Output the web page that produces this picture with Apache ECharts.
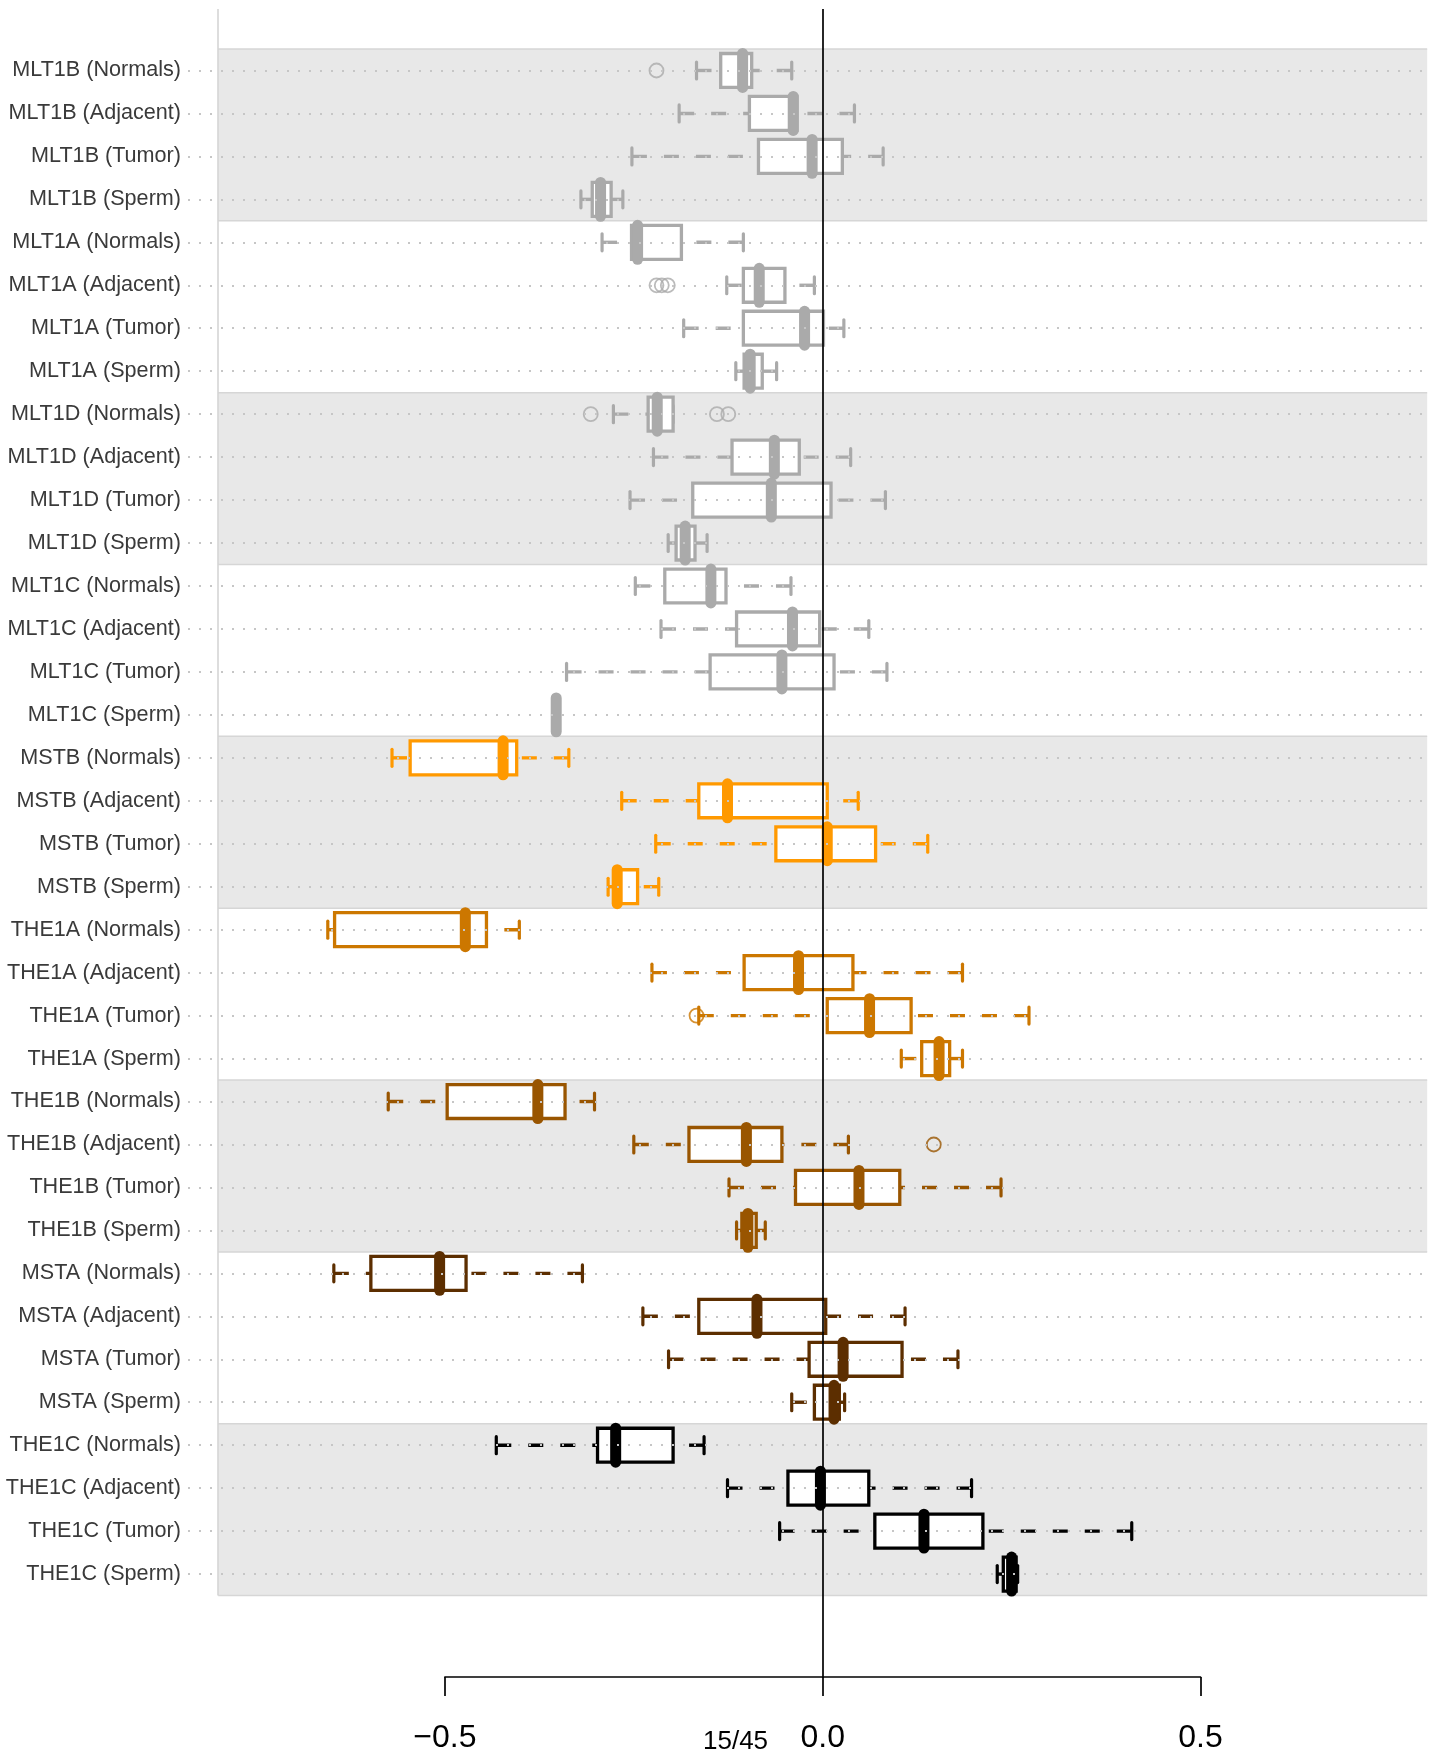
<!DOCTYPE html>
<html>
<head>
<meta charset="utf-8">
<script src="https://cdn.jsdelivr.net/npm/echarts@6/dist/echarts.min.js"></script>
<style>
  html, body { margin: 0; padding: 0; background: #ffffff; }
  #chart { width: 1431px; height: 1754px; }
</style>
</head>
<body>
<div id="chart"></div>
<script>
// Repeat families (top to bottom) and the four sample sets of each
const families = ['MLT1B', 'MLT1A', 'MLT1D', 'MLT1C', 'MSTB', 'THE1A', 'THE1B', 'MSTA', 'THE1C'];
const tissues = ['Normals', 'Adjacent', 'Tumor', 'Sperm'];
const familyColors = ['#aaaaaa', '#aaaaaa', '#aaaaaa', '#aaaaaa', '#ff9900', '#cc7700', '#995500', '#5c2e00', '#000000'];

// Five-number summaries, one entry per row (families x tissues)
const lowerWhisker = [
  -0.167, -0.190, -0.2525, -0.320,
  -0.292, -0.127, -0.184, -0.115,
  -0.277, -0.224, -0.255, -0.2045,
  -0.248, -0.214, -0.339, -0.3527,
  -0.570, -0.266, -0.221, -0.284,
  -0.655, -0.226, -0.164, 0.104,
  -0.575, -0.250, -0.124, -0.114,
  -0.647, -0.238, -0.204, -0.041,
  -0.432, -0.126, -0.057, 0.231
];
const lowerHinge = [
  -0.135, -0.097, -0.085, -0.305,
  -0.253, -0.105, -0.105, -0.104,
  -0.231, -0.120, -0.172, -0.194,
  -0.209, -0.114, -0.149, -0.3527,
  -0.546, -0.164, -0.062, -0.276,
  -0.646, -0.104, 0.006, 0.131,
  -0.497, -0.177, -0.036, -0.107,
  -0.598, -0.164, -0.018, -0.011,
  -0.298, -0.046, 0.069, 0.239
];
const median = [
  -0.106, -0.039, -0.014, -0.294,
  -0.245, -0.084, -0.024, -0.096,
  -0.219, -0.064, -0.068, -0.182,
  -0.148, -0.040, -0.054, -0.3527,
  -0.423, -0.126, 0.006, -0.272,
  -0.473, -0.032, 0.062, 0.154,
  -0.377, -0.101, 0.048, -0.099,
  -0.507, -0.087, 0.027, 0.015,
  -0.274, -0.003, 0.134, 0.250
];
const upperHinge = [
  -0.094, -0.034, 0.026, -0.280,
  -0.187, -0.050, 0.001, -0.080,
  -0.198, -0.031, 0.011, -0.169,
  -0.128, -0.004, 0.015, -0.3527,
  -0.405, 0.006, 0.070, -0.245,
  -0.445, 0.040, 0.117, 0.168,
  -0.341, -0.054, 0.102, -0.088,
  -0.472, 0.004, 0.105, 0.022,
  -0.198, 0.061, 0.212, 0.256
];
const upperWhisker = [
  -0.041, 0.042, 0.080, -0.2645,
  -0.105, -0.011, 0.028, -0.061,
  -0.198, 0.037, 0.083, -0.153,
  -0.042, 0.061, 0.085, -0.3527,
  -0.336, 0.047, 0.139, -0.217,
  -0.4015, 0.185, 0.273, 0.185,
  -0.302, 0.034, 0.236, -0.076,
  -0.318, 0.109, 0.179, 0.029,
  -0.157, 0.197, 0.409, 0.258
];
// Points beyond the whiskers: [row index, value]
const outliers = [
  [0, -0.220],
  [5, -0.220], [5, -0.213], [5, -0.205],
  [8, -0.307], [8, -0.140], [8, -0.125],
  [22, -0.167],
  [25, 0.147]
];
const xTicks = [-0.5, 0, 0.5];
const pageNote = '15/45';

// ---- derived tables ----
const categories = [];
const rowColor = [];
families.forEach((f, fi) => tissues.forEach(t => {
  categories.push(f + ' (' + t + ')');
  rowColor.push(familyColors[fi]);
}));
const boxData = categories.map((c, i) =>
  [i, lowerWhisker[i], lowerHinge[i], median[i], upperHinge[i], upperWhisker[i]]);
const outlierData = outliers.map(o => ({ value: [o[1], o[0]], itemStyle: { borderColor: rowColor[o[0]] } }));

// ---- layout ----
const PX_PER_UNIT = 755.6;
const PLOT_LEFT = 188;
const X_MIN = -0.84, X_MAX = 0.8;
const FRAME_MIN = -0.8;           // left edge of the shaded panel
const ROW_H = 42.96;
const PLOT_W = (X_MAX - X_MIN) * PX_PER_UNIT;
const shadedRows = families.map((f, i) => i).filter(i => i % 2 === 0).map(i => [FRAME_MIN, i * tissues.length]);

const FONT = '"Liberation Sans", Arial, Helvetica, sans-serif';

const chart = echarts.init(document.getElementById('chart'), null, { renderer: 'canvas' });

chart.setOption({
  animation: false,
  backgroundColor: '#ffffff',
  title: {
    text: pageNote, left: 703, top: 1729, padding: 0,
    textStyle: { fontFamily: FONT, fontSize: 26, fontWeight: 'normal', color: '#000' }
  },
  grid: [
    // rows
    { left: PLOT_LEFT, width: PLOT_W, top: 49, height: ROW_H * 36 },
    // frame line on the left
    { left: PLOT_LEFT, width: PLOT_W, top: 9, height: 49 + ROW_H * 36 - 9 },
    // zero reference line down to the axis
    { left: PLOT_LEFT, width: PLOT_W, top: 9, height: 1678 - 9 },
    // bottom value axis
    { left: PLOT_LEFT + (-0.5 - X_MIN) * PX_PER_UNIT, width: PX_PER_UNIT, top: 1600, height: 78 }
  ],
  xAxis: [
    { gridIndex: 0, type: 'value', min: X_MIN, max: X_MAX, show: false },
    { gridIndex: 1, type: 'value', min: X_MIN, max: X_MAX, show: false },
    { gridIndex: 2, type: 'value', min: X_MIN, max: X_MAX, show: false },
    {
      gridIndex: 3, type: 'value', min: xTicks[0], max: xTicks[xTicks.length - 1], interval: 0.5,
      position: 'bottom',
      axisLine: { show: true, lineStyle: { color: '#000', width: 1.7 } },
      axisTick: { show: true, inside: false, length: 19, lineStyle: { color: '#000', width: 1.7 } },
      axisLabel: {
        margin: 45, fontFamily: FONT, fontSize: 32, color: '#000',
        formatter: v => v.toFixed(1).replace('-', '\u2212')
      },
      splitLine: { show: false }
    }
  ],
  yAxis: [
    {
      gridIndex: 0, type: 'category', data: categories, inverse: true,
      axisLine: { show: false }, axisTick: { show: false }, splitLine: { show: false },
      axisLabel: { margin: 7, fontFamily: FONT, fontSize: 21.6, color: '#3a3a3a', interval: 0 }
    },
    { gridIndex: 1, type: 'value', min: 0, max: 1, show: false },
    { gridIndex: 2, type: 'value', min: 0, max: 1, show: false },
    { gridIndex: 3, type: 'value', min: 0, max: 1, show: false }
  ],
  series: [
    // shaded panels behind alternating families
    {
      type: 'custom', xAxisIndex: 0, yAxisIndex: 0, z: 1, silent: true,
      data: shadedRows, encode: { x: 0, y: 1 },
      renderItem: (params, api) => {
        const start = api.value(1);
        const band = api.size([0, 1])[1];
        const top = api.coord([api.value(0), start])[1] - band / 2;
        const x0 = api.coord([api.value(0), start])[0];
        const x1 = api.coord([X_MAX, start])[0];
        const h = band * tissues.length;
        return {
          type: 'group',
          children: [
            { type: 'rect', shape: { x: x0, y: top, width: x1 - x0, height: h }, style: { fill: '#e8e8e8' } },
            { type: 'line', shape: { x1: x0, y1: top, x2: x1, y2: top }, style: { stroke: '#d6d6d6', lineWidth: 1.5 } },
            { type: 'line', shape: { x1: x0, y1: top + h, x2: x1, y2: top + h }, style: { stroke: '#d6d6d6', lineWidth: 1.5 } }
          ]
        };
      }
    },
    // dotted row guides
    {
      type: 'scatter', xAxisIndex: 0, yAxisIndex: 0, z: 2, data: [], silent: true,
      markLine: {
        silent: true, symbol: ['none', 'none'], label: { show: false },
        lineStyle: { color: '#c6c6c6', width: 2, type: [2, 9] },
        emphasis: { disabled: true },
        data: categories.map(c => ({ yAxis: c }))
      }
    },
    // left frame line
    {
      type: 'scatter', xAxisIndex: 1, yAxisIndex: 1, z: 2, data: [], silent: true,
      markLine: {
        silent: true, symbol: ['none', 'none'], label: { show: false },
        lineStyle: { color: '#d2d2d2', width: 1.5, type: 'solid' },
        emphasis: { disabled: true },
        data: [{ xAxis: FRAME_MIN }]
      }
    },
    // box plots
    {
      type: 'custom', xAxisIndex: 0, yAxisIndex: 0, z: 3, silent: true,
      data: boxData, encode: { y: 0, x: [1, 2, 3, 4, 5] },
      renderItem: (params, api) => {
        const row = api.value(0);
        const lo = api.value(1), a = api.value(2), m = api.value(3), b = api.value(4), hi = api.value(5);
        const X = v => api.coord([v, row])[0];
        const yc = api.coord([0, row])[1];
        const bh = api.size([0, 1])[1] * 0.79;
        const cap = bh * 0.5;
        const color = rowColor[row];
        const dash = { stroke: color, lineWidth: 3.4, lineDash: [15, 17], lineCap: 'butt' };
        const solid = { stroke: color, lineWidth: 3.2, lineCap: 'round' };
        return {
          type: 'group',
          children: [
            { type: 'line', shape: { x1: X(lo), y1: yc, x2: X(a), y2: yc }, style: dash },
            { type: 'line', shape: { x1: X(hi), y1: yc, x2: X(b), y2: yc }, style: dash },
            { type: 'line', shape: { x1: X(lo), y1: yc - cap / 2, x2: X(lo), y2: yc + cap / 2 }, style: solid },
            { type: 'line', shape: { x1: X(hi), y1: yc - cap / 2, x2: X(hi), y2: yc + cap / 2 }, style: solid },
            { type: 'rect', shape: { x: X(a), y: yc - bh / 2, width: X(b) - X(a), height: bh },
              style: { fill: '#ffffff', stroke: color, lineWidth: 3.3 } },
            { type: 'line', shape: { x1: X(m), y1: yc - bh / 2, x2: X(m), y2: yc + bh / 2 },
              style: { stroke: color, lineWidth: 11, lineCap: 'round' } }
          ]
        };
      }
    },
    // outlying points
    {
      type: 'scatter', xAxisIndex: 0, yAxisIndex: 0, z: 4, silent: true,
      symbol: 'circle', symbolSize: 14,
      itemStyle: { color: 'rgba(0,0,0,0)', borderWidth: 1.8 },
      data: outlierData
    },
    // zero reference line
    {
      type: 'scatter', xAxisIndex: 2, yAxisIndex: 2, z: 10, data: [], silent: true,
      markLine: {
        silent: true, symbol: ['none', 'none'], label: { show: false },
        lineStyle: { color: '#000', width: 1.7, type: 'solid' },
        emphasis: { disabled: true },
        data: [{ xAxis: 0 }]
      }
    }
  ]
});
</script>
</body>
</html>
